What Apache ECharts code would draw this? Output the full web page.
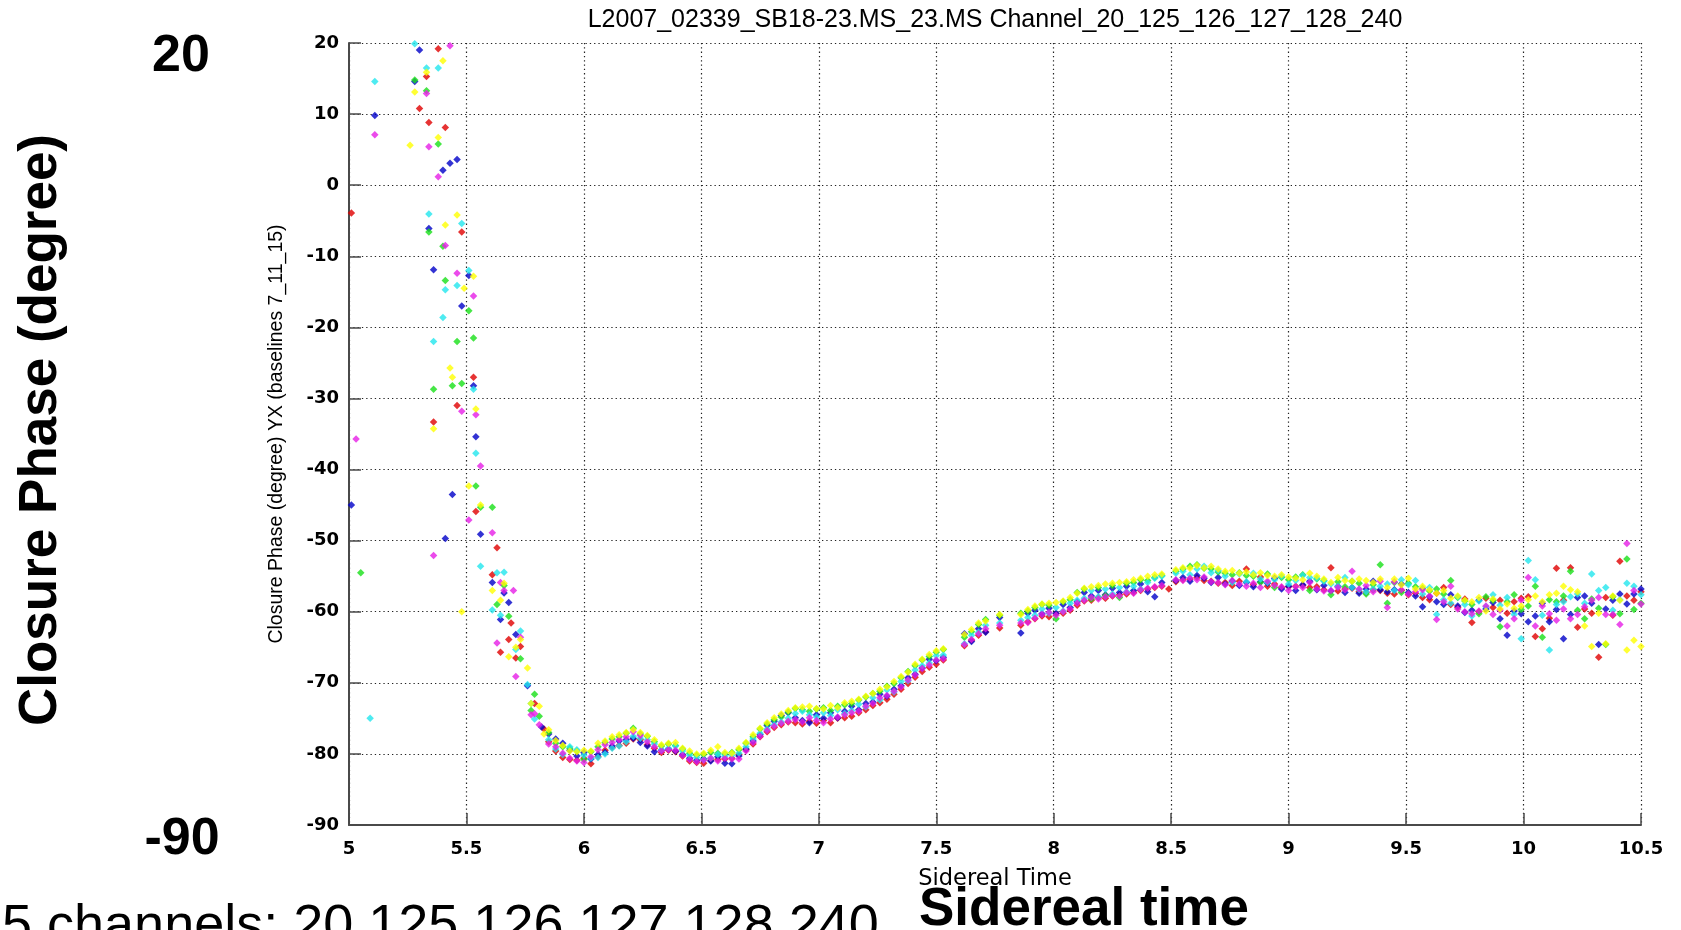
<!DOCTYPE html>
<html><head><meta charset="utf-8">
<script src="https://cdn.jsdelivr.net/npm/echarts@6/dist/echarts.min.js"></script>
<style>html,body{margin:0;padding:0;background:#fff}#chart{width:1681px;height:930px}</style>
</head><body><div id="chart"></div>
<script>
// ---------- data ----------
const channels = ['20', '125', '126', '127', '128', '240'];
const channelColors = ['#e00000', '#0000c8', '#18e018', '#22e6ee', '#e61ee6', '#ffff00'];
const xTickRange = [5, 10.5, 0.5];
const yTickRange = [-90, 20, 10];

// sparse, noisy start of the track (time, phase)
const early20 = [[5.01,-3.9],[5.30,10.8],[5.33,15.3],[5.34,8.8],[5.36,-33.3],[5.38,19.2],[5.41,8.1],[5.46,-31.0],[5.48,-6.6],[5.53,-27.0],[5.54,-45.9],[5.61,-54.8],[5.63,-51.0],[5.645,-65.7],[5.68,-63.9],[5.69,-61.6],[5.71,-66.5],[5.73,-64.9],[5.79,-72.9],[5.83,-76.5]];
const early125 = [[5.01,-45.0],[5.11,9.8],[5.28,14.6],[5.30,19.0],[5.34,-6.1],[5.36,-11.9],[5.40,2.1],[5.41,-49.7],[5.43,3.1],[5.44,-43.5],[5.46,3.6],[5.48,-17.0],[5.51,-12.7],[5.53,-28.2],[5.54,-35.4],[5.56,-49.1],[5.61,-55.9],[5.645,-61.1],[5.66,-57.35],[5.68,-58.7],[5.71,-63.2],[5.76,-70.4],[5.82,-76.2]];
const early126 = [[5.05,-54.5],[5.28,14.8],[5.33,13.3],[5.34,-6.6],[5.36,-28.7],[5.38,5.8],[5.40,-8.6],[5.41,-13.4],[5.44,-28.2],[5.46,-22.0],[5.48,-27.9],[5.51,-17.65],[5.53,-21.5],[5.54,-42.3],[5.56,-45.3],[5.61,-45.3],[5.63,-59.0],[5.66,-56.3],[5.68,-60.65],[5.73,-66.6],[5.775,-73.9],[5.79,-71.6],[5.81,-74.7]];
const early127 = [[5.09,-75.0],[5.11,14.6],[5.28,19.9],[5.33,16.5],[5.34,-4.05],[5.36,-22.0],[5.38,16.5],[5.40,-18.6],[5.41,-14.7],[5.46,-14.1],[5.48,-5.4],[5.51,-12.0],[5.53,-28.7],[5.54,-37.7],[5.56,-53.6],[5.61,-59.75],[5.63,-54.5],[5.645,-60.5],[5.66,-54.45],[5.71,-65.3],[5.73,-62.7],[5.76,-70.25],[5.775,-72.9],[5.79,-75.1]];
const early128 = [[5.03,-35.7],[5.11,7.1],[5.33,12.9],[5.34,5.4],[5.36,-52.1],[5.38,1.2],[5.41,-8.5],[5.43,19.6],[5.46,-12.4],[5.48,-31.8],[5.51,-47.1],[5.53,-15.6],[5.54,-32.3],[5.56,-39.5],[5.61,-48.9],[5.63,-64.4],[5.645,-55.9],[5.66,-57.0],[5.70,-57.0],[5.71,-69.1],[5.73,-63.6],[5.775,-74.5],[5.79,-74.35],[5.81,-75.9]];
const early240 = [[5.26,5.6],[5.28,13.1],[5.33,15.9],[5.36,-34.25],[5.38,6.7],[5.40,17.5],[5.41,-5.6],[5.43,-25.7],[5.44,-27.0],[5.46,-4.2],[5.48,-60.0],[5.49,-14.5],[5.51,-42.3],[5.53,-12.8],[5.54,-31.5],[5.56,-45.0],[5.61,-57.0],[5.645,-58.4],[5.66,-56.0],[5.68,-66.35],[5.71,-65.0],[5.73,-63.9],[5.76,-67.9],[5.775,-72.9],[5.81,-73.3],[5.83,-77.2]];

// regular part of the track: sidereal times shared by all channels
const times = [5.85,5.88,5.91,5.94,5.97,6.00,6.03,6.06,6.09,6.12,
6.15,6.18,6.21,6.24,6.27,6.30,6.33,6.36,6.39,6.42,
6.45,6.48,6.51,6.54,6.57,6.60,6.63,6.66,6.69,6.72,
6.75,6.78,6.81,6.84,6.87,6.90,6.93,6.96,6.99,7.02,
7.05,7.08,7.11,7.14,7.17,7.20,7.23,7.26,7.29,7.32,
7.35,7.38,7.41,7.44,7.47,7.50,7.53,7.56,7.59,7.62,
7.65,7.68,7.71,7.74,7.77,7.80,7.83,7.86,7.89,7.92,
7.95,7.98,8.01,8.04,8.07,8.10,8.13,8.16,8.19,8.22,
8.25,8.28,8.31,8.34,8.37,8.40,8.43,8.46,8.49,8.52,
8.55,8.58,8.61,8.64,8.67,8.70,8.73,8.76,8.79,8.82,
8.85,8.88,8.91,8.94,8.97,9.00,9.03,9.06,9.09,9.12,
9.15,9.18,9.21,9.24,9.27,9.30,9.33,9.36,9.39,9.42,
9.45,9.48,9.51,9.54,9.57,9.60,9.63,9.66,9.69,9.72,
9.75,9.78,9.81,9.84,9.87,9.90,9.93,9.96,9.99,10.02,
10.05,10.08,10.11,10.14,10.17,10.20,10.23,10.26,10.29,10.32,
10.35,10.38,10.41,10.44,10.47,10.50];

const ch20 = [-78.3,-79.6,-80.5,-80.8,-80.9,-80.6,-81.4,-80.4,-79.5,-79.1,
-78.8,-78.5,-77.9,-78.0,-78.7,-79.2,-79.8,-79.5,-79.7,-80.3,
-81.0,-81.2,-81.3,-80.9,-80.8,-80.7,-80.6,-80.1,-79.4,-78.6,
-77.6,-76.9,-76.3,-75.9,-75.5,-75.6,-75.8,-75.4,-75.7,-75.3,
-75.6,-75.0,-74.9,-74.7,-74.2,-73.8,-73.2,-72.8,-72.3,-71.6,
-70.9,-70.1,-69.2,-68.4,-67.8,-67.4,-66.8,null,null,-64.8,
-64.0,-63.3,-62.8,null,-62.3,null,null,-61.9,-61.4,-61.0,
-60.6,-60.7,-60.3,-60.2,-59.8,-59.1,-58.5,-58.4,-58.0,-58.1,
-57.8,-57.6,-57.5,-57.3,-57.0,-56.8,-56.6,-56.4,-56.8,-55.8,
-55.5,-55.4,-55.2,-55.6,-55.7,-56.0,-55.9,-56.3,-55.7,-54.0,
-56.2,-55.1,-56.4,-56.1,-56.6,-56.5,-56.4,-56.3,-56.6,-56.5,
-56.9,-53.8,-57.1,-56.8,-56.7,-57.2,-57.3,-56.9,-57.0,-57.4,
-57.5,-57.0,-57.6,-57.4,-58.0,-58.3,-57.4,-56.6,-59.0,-59.4,
-58.2,-61.5,-60.0,-58.1,-59.4,-58.4,-60.2,-58.6,-58.1,-57.9,
-63.5,-62.4,-60.9,-53.9,-58.4,-53.8,-62.2,-59.6,-60.2,-66.4,
-58.0,-60.5,-52.9,-57.8,-58.4,-57.2];
const ch125 = [-77.2,-77.9,-78.5,-79.5,-80.3,-79.8,-80.7,-80.1,-79.8,-78.9,
-78.2,-78.0,-77.8,-78.4,-78.9,-79.7,-79.5,-79.3,-79.6,-80.1,
-80.6,-80.9,-80.7,-81.0,-80.4,-81.3,-81.4,-80.3,-79.3,-78.2,
-77.3,-76.0,-75.4,-74.6,-74.2,-74.9,-75.3,-75.6,-74.5,-75.0,
-74.2,-74.9,-74.0,-73.3,-73.8,-72.9,-72.7,-71.6,-71.9,-70.9,
-70.4,-69.3,-68.8,-67.9,-66.7,-66.9,-66.4,null,null,-63.1,
-64.2,-62.4,-62.9,null,-60.8,null,null,-63.0,-60.2,-59.8,
-60.3,-59.5,-60.2,-59.0,-59.4,-58.6,-57.3,-57.8,-57.0,-57.6,
-56.7,-57.3,-56.4,-57.0,-56.1,-57.2,-57.9,-55.9,null,-55.6,
-55.2,-55.7,-54.9,-55.3,-55.9,-55.2,-56.1,-55.7,-56.3,-55.9,
-56.5,-55.8,-56.0,-55.3,-56.8,-56.4,-57.0,-56.2,-55.7,-56.9,
-56.3,-57.1,-56.4,-57.3,-56.6,-57.4,-56.8,-55.7,-56.9,-57.2,
-56.9,-56.1,-57.3,-57.8,-59.3,-57.9,-58.6,-59.0,-57.6,-59.2,
-60.1,-59.8,-58.4,-59.6,-58.7,-61.0,-63.3,-59.9,-60.3,-61.4,
-60.6,-58.8,-61.4,-59.7,-63.8,-60.4,-58.0,-57.8,-58.8,-64.6,
-59.6,-58.4,-57.5,-58.9,-57.5,-56.8];
const ch126 = [-77.0,-78.5,-79.0,-79.2,-79.6,-80.8,-79.7,-79.0,-78.4,-77.9,
-77.6,-77.1,-76.4,-77.2,-77.5,-78.3,-78.9,-78.6,-78.8,-79.3,
-79.9,-80.2,-80.1,-79.8,-79.9,-80.0,-79.8,-79.4,-78.5,-77.6,
-76.5,-75.8,-75.2,-74.8,-74.1,-73.6,-73.8,-74.0,-73.7,-73.5,
-73.9,-73.3,-73.1,-72.9,-72.4,-72.0,-71.5,-71.2,-70.5,-70.1,
-69.3,-68.4,-67.6,-66.8,-66.3,-65.7,-65.3,null,null,-63.6,
-62.8,-61.8,-61.1,null,-60.5,null,null,-60.2,-59.9,-59.4,
-59.0,-59.1,-61.0,-58.6,-58.3,-57.3,-56.8,-58.2,-56.6,-57.7,
-56.3,-58.0,-56.0,-55.9,-55.5,-55.6,-55.2,-54.9,null,-54.3,
-54.0,-53.6,-53.4,-53.9,-54.0,-54.4,-54.6,-54.8,-54.5,-54.9,
-55.0,-55.9,-54.7,-56.6,-55.2,-55.5,-55.1,-54.8,-57.0,-55.4,
-55.6,-57.6,-55.8,-56.5,-55.7,-56.0,-57.5,-56.2,-53.4,-58.8,
-55.9,-57.3,-56.0,-56.5,-56.7,-57.1,-56.8,-57.5,-55.6,-58.0,
-58.5,-59.0,-60.3,-57.9,-58.4,-62.1,-58.6,-57.6,-59.7,-59.2,
-56.4,-63.6,-58.3,-58.6,-57.8,-54.3,-59.8,-61.0,-58.2,-59.5,
-64.6,-57.9,-60.3,-52.6,-59.7,-58.8];
const ch127 = [-78.0,-79.3,-80.1,-79.0,-79.4,-80.2,-80.6,-80.5,-80.0,-79.2,
-78.9,-78.3,-77.5,-77.8,-78.0,-78.6,-79.4,-79.2,-78.9,-79.6,
-80.2,-80.5,-80.8,-80.6,-80.1,-80.3,-80.2,-79.9,-79.0,-77.9,
-77.1,-76.5,-75.9,-75.5,-75.0,-74.3,-74.0,-74.5,-74.8,-74.2,
-74.6,-73.8,-74.3,-73.9,-73.0,-73.4,-72.1,-72.4,-71.0,-71.3,
-69.8,-69.7,-68.2,-67.6,-67.2,-66.2,-66.1,null,null,-64.5,
-63.3,-62.9,-61.9,null,-61.6,null,null,-61.2,-60.8,-60.5,
-59.6,-60.2,-59.4,-59.9,-58.8,-58.4,-58.1,-57.0,-57.9,-56.8,
-57.5,-56.6,-57.2,-56.4,-56.8,-55.9,-55.3,-55.0,null,-54.6,
-54.3,-54.8,-54.0,-53.6,-54.5,-54.2,-55.0,-55.9,-54.7,-55.8,
-54.6,-55.4,-55.9,-55.5,-55.0,-56.1,-55.6,-54.9,-55.2,-55.3,
-55.7,-56.1,-56.4,-55.2,-56.6,-56.9,-57.2,-56.8,-56.4,-56.1,
-57.0,-55.5,-56.2,-55.6,-57.5,-56.6,-60.4,-58.3,-58.8,-57.9,
-59.0,-60.6,-58.5,-59.3,-57.6,-59.1,-58.0,-60.4,-63.8,-52.8,
-55.5,-60.5,-65.4,-59.0,-58.6,-57.9,-57.5,-58.8,-54.7,-57.0,
-56.6,-59.8,-58.3,-56.0,-56.4,-57.6];
const ch128 = [-78.6,-79.0,-79.9,-80.6,-81.0,-81.2,-80.4,-79.4,-78.7,-78.4,
-78.0,-77.6,-76.9,-77.4,-78.3,-79.0,-79.6,-79.4,-79.5,-80.2,
-80.8,-81.1,-80.9,-80.6,-81.0,-80.6,-80.7,-80.7,-79.6,-78.4,
-77.5,-76.7,-76.1,-75.7,-75.4,-75.2,-75.5,-74.9,-75.3,-75.6,
-75.1,-74.8,-74.5,-74.2,-74.0,-73.3,-72.9,-72.1,-71.8,-71.2,
-70.6,-69.6,-68.9,-68.0,-67.5,-66.8,-66.6,null,null,-64.6,
-63.9,-63.1,-62.4,null,-61.9,null,null,-61.6,-61.5,-60.9,
-60.4,-60.1,-60.5,-60.0,-59.6,-58.8,-58.4,-58.0,-58.2,-57.9,
-57.7,-57.8,-57.3,-57.4,-56.9,-56.7,-56.5,-56.3,null,-55.5,
-55.6,-55.3,-55.5,-55.1,-55.8,-55.9,-56.2,-55.6,-56.1,-56.4,
-56.0,-56.6,-55.7,-56.3,-56.5,-57.0,-56.5,-56.6,-55.9,-56.8,
-57.1,-57.0,-56.6,-56.9,-54.3,-56.8,-56.3,-57.2,-55.7,-59.4,
-55.8,-56.9,-57.5,-57.2,-56.9,-57.8,-61.1,-58.6,-56.4,-59.6,
-60.0,-60.3,-59.9,-59.2,-60.4,-59.8,-62.0,-61.0,-58.4,-55.2,
-62.0,-59.2,-60.3,-61.2,-59.6,-61.0,-60.4,-59.3,-58.4,-58.0,
-60.4,-60.4,-61.8,-50.4,-57.0,-58.9];
const ch240 = [-76.6,-78.1,-78.8,-79.6,-79.7,-79.5,-79.6,-78.5,-78.2,-77.6,
-77.3,-77.0,-76.6,-77.0,-77.4,-78.0,-78.7,-78.5,-78.4,-79.2,
-79.6,-80.0,-79.9,-79.5,-79.0,-79.8,-79.9,-79.2,-78.4,-77.3,
-76.4,-75.6,-74.9,-74.4,-73.9,-73.5,-73.4,-73.3,-73.6,-73.7,
-73.2,-73.5,-72.8,-72.6,-72.3,-71.9,-71.5,-70.9,-70.6,-69.8,
-69.1,-68.5,-67.4,-66.7,-66.0,-65.5,-65.2,null,null,-63.2,
-62.5,-61.6,-61.3,null,-60.4,null,null,-60.4,-59.7,-59.2,
-58.9,-58.8,-58.7,-58.5,-58.0,-57.4,-56.7,-56.5,-56.3,-56.1,
-56.0,-55.9,-55.8,-55.5,-55.3,-55.0,-54.8,-54.7,null,-54.1,
-53.8,-53.9,-53.5,-53.8,-53.6,-54.0,-54.3,-54.2,-54.6,-54.4,
-54.8,-54.5,-54.9,-55.0,-54.8,-55.1,-55.3,-55.5,-54.6,-55.0,
-55.4,-55.9,-55.2,-55.6,-55.7,-55.4,-55.6,-55.9,-55.4,-56.6,
-55.4,-56.2,-55.3,-56.8,-56.4,-56.9,-57.4,-57.0,-58.1,-57.8,
-58.4,-58.6,-58.0,-59.9,-58.2,-59.6,-58.9,-59.5,-59.2,-58.3,
-57.8,-58.6,-57.6,-57.4,-56.4,-56.9,-57.2,-62.0,-64.9,-60.2,
-64.5,-57.8,-58.4,-65.4,-64.0,-64.9];

const earlyData = [early20, early125, early126, early127, early128, early240];
const mainData = [ch20, ch125, ch126, ch127, ch128, ch240];

// ---------- chart ----------
function buildSeriesData(early, vals) {
  const pts = early.slice();
  times.forEach((t, i) => { if (vals[i] !== null) pts.push([t, vals[i]]); });
  return pts;
}

const chart = echarts.init(document.getElementById('chart'), null, { renderer: 'canvas' });
const axisColor = '#4a4a4a';
const gridDots = { color: '#222', width: 1.2, type: [1.3, 3] };
const tickFont = { fontFamily: 'DejaVu Sans', fontWeight: 'bold', fontSize: 18, color: '#000' };

chart.setOption({
  animation: false,
  backgroundColor: '#fff',
  title: {
    text: 'L2007_02339_SB18-23.MS_23.MS Channel_20_125_126_127_128_240',
    left: 995, top: 8, textAlign: 'center', padding: 0,
    textStyle: { fontFamily: 'Liberation Sans', fontSize: 25, fontWeight: 'normal', color: '#000' }
  },
  grid: { left: 349, right: 40, top: 43, bottom: 105 },
  xAxis: {
    type: 'value', min: xTickRange[0], max: xTickRange[1], interval: xTickRange[2],
    name: 'Sidereal Time', nameLocation: 'middle', nameGap: 43,
    nameTextStyle: { fontFamily: 'DejaVu Sans', fontSize: 22.5, color: '#000' },
    axisLine: { show: true, onZero: false, lineStyle: { color: axisColor, width: 2 } },
    axisTick: { show: true, inside: true, length: 12, lineStyle: { color: axisColor, width: 1.5 } },
    axisLabel: Object.assign({ margin: 15 }, tickFont),
    splitLine: { show: true, lineStyle: gridDots }
  },
  yAxis: {
    type: 'value', min: yTickRange[0], max: yTickRange[1], interval: yTickRange[2],
    name: 'Closure Phase (degree) YX (baselines 7_11_15)', nameLocation: 'middle', nameGap: 62,
    nameTextStyle: { fontFamily: 'Liberation Sans', fontSize: 19.5, color: '#000' },
    axisLine: { show: true, onZero: false, lineStyle: { color: axisColor, width: 2 } },
    axisTick: { show: true, inside: true, length: 12, lineStyle: { color: axisColor, width: 1.5 } },
    axisLabel: Object.assign({ margin: 10 }, tickFont),
    splitLine: { show: true, lineStyle: gridDots }
  },
  series: channels.map((ch, k) => ({
    name: 'Channel ' + ch,
    type: 'scatter',
    symbol: 'diamond',
    symbolSize: 7.5,
    itemStyle: { color: channelColors[k] },
    data: buildSeriesData(earlyData[k], mainData[k])
  })),
  graphic: [
    { type: 'text', x: 181, y: 57, style: { text: '20', font: 'bold 52px "Liberation Sans", Arial, sans-serif', fill: '#000', textAlign: 'center', textVerticalAlign: 'middle' } },
    { type: 'text', x: 182, y: 840, style: { text: '-90', font: 'bold 52px "Liberation Sans", Arial, sans-serif', fill: '#000', textAlign: 'center', textVerticalAlign: 'middle' } },
    { type: 'text', x: 41, y: 430, rotation: Math.PI / 2, style: { text: 'Closure Phase (degree)', font: 'bold 53px "Liberation Sans", Arial, sans-serif', fill: '#000', textAlign: 'center', textVerticalAlign: 'middle' } },
    { type: 'text', x: 2, y: 927, style: { text: '5 channels: 20 125 126 127 128 240', font: '54px "Liberation Sans", Arial, sans-serif', fill: '#000', textAlign: 'left', textVerticalAlign: 'middle' } },
    { type: 'text', x: 919, y: 910, style: { text: 'Sidereal time', font: 'bold 53px "Liberation Sans", Arial, sans-serif', fill: '#000', textAlign: 'left', textVerticalAlign: 'middle' } }
  ]
});
</script>
</body></html>
